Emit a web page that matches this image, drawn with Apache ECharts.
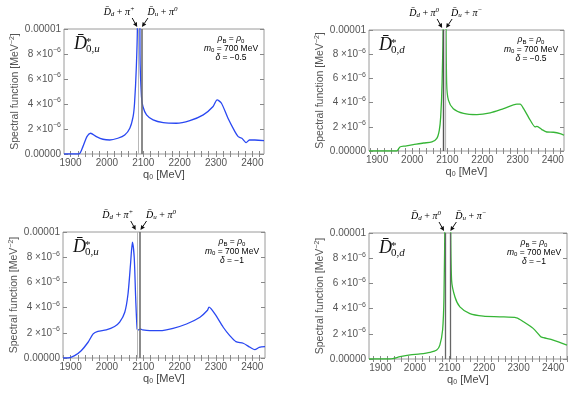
<!DOCTYPE html>
<html>
<head>
<meta charset="utf-8">
<script src="https://cdn.jsdelivr.net/npm/echarts@6/dist/echarts.min.js"></script>
<style>
  html, body { margin: 0; background: #fff; }
  #chart { width: 581px; height: 397px; }
</style>
</head>
<body>
<div id="chart"></div>
<script>
// spectral function values are in units of 1e-6 MeV^-2, q0 in MeV
// peaks that leave the frame are given a large value and clipped

// D*0,u  delta = -0.5
const qU05 = [1882, 1923, 1934, 1945, 1955, 1971, 1989, 2008, 2030, 2049, 2063, 2072, 2076, 2081, 2084, 2087, 2091, 2095, 2099, 2109, 2127, 2155, 2191, 2228, 2265, 2292, 2303, 2315, 2333, 2352, 2361, 2371, 2383, 2392, 2407, 2432];
const sU05 = [0, 0, 0.59, 1.39, 1.66, 1.39, 1.18, 1.12, 1.26, 1.52, 2.06, 2.99, 4.06, 7.0, 10.5, 40, 8.0, 4.6, 3.8, 3.13, 2.73, 2.51, 2.46, 2.67, 3.13, 3.8, 4.33, 4.06, 2.86, 1.79, 1.39, 1.26, 0.91, 1.12, 1.12, 1.07];

// D*0,d  delta = -0.5
const qD05 = [1877, 1956, 1965, 1980, 2003, 2032, 2056, 2070, 2077, 2081, 2085, 2089, 2092, 2096, 2098, 2103, 2117, 2146, 2184, 2222, 2260, 2298, 2307, 2317, 2336, 2350, 2355, 2369, 2383, 2402, 2421, 2432];
const sD05 = [0, 0, 0.33, 0.41, 0.52, 0.66, 0.75, 1.04, 1.71, 2.8, 5.6, 12, 40, 12, 5.6, 4.2, 3.5, 3.1, 3.0, 3.15, 3.5, 3.87, 3.87, 3.5, 2.54, 1.99, 2.04, 1.77, 1.57, 1.55, 1.44, 1.3];

// D*0,u  delta = -1
const qU1 = [1879, 1893, 1911, 1929, 1948, 1962, 1975, 1998, 2021, 2035, 2049, 2058, 2065, 2070, 2075, 2079, 2083, 2086, 2092, 2098, 2118, 2146, 2182, 2219, 2256, 2276, 2281, 2297, 2320, 2338, 2355, 2375, 2394, 2407, 2419, 2435];
const sU1 = [0, 0, 0.19, 0.58, 1.25, 1.91, 2.12, 2.23, 2.5, 2.84, 3.63, 5.1, 7.5, 9.2, 8.0, 4.8, 2.3, 2.23, 2.3, 2.23, 2.17, 2.17, 2.36, 2.7, 3.24, 3.77, 4.03, 3.5, 2.44, 1.78, 1.3, 1.17, 0.85, 0.66, 0.85, 0.9];

// D*0,d  delta = -1
const qD1 = [1867, 1928, 1957, 1986, 2015, 2044, 2063, 2072, 2080, 2084, 2087, 2095, 2103, 2106, 2116, 2130, 2159, 2198, 2246, 2294, 2314, 2342, 2364, 2372, 2400, 2440];
const sD1 = [0, 0, 0.18, 0.32, 0.4, 0.53, 0.71, 1.1, 2.3, 4.9, 12, 40, 12, 6.25, 4.9, 4.14, 3.6, 3.4, 3.35, 3.27, 2.96, 2.43, 1.77, 1.69, 1.5, 1.1];

// threshold lines (MeV)
const thrU05 = [2086, 2095];
const thrD05 = [2088, 2095];
const thrU1 = [2082, 2091];
const thrD1 = [2087, 2101];

const xLabels = [1900, 2000, 2100, 2200, 2300, 2400];
const yLabels = [0, 2, 4, 6, 8, 10];
const deltas = ['−0.5', '−0.5', '−1', '−1'];
const flavours = ['u', 'd', 'u', 'd'];

const BLUE = '#2a48f2';
const GREEN = '#36b536';

const panels = [
  { q: qU05, s: sU05, thr: thrU05, color: BLUE, thrStyle: [['#b8b8b8', 1], ['#6e6e6e', 1.6]], chan: [['d', '+'], ['u', '0']],
    box: { left: 64, top: 29, width: 200, height: 125, min: 1882, max: 2432 } },
  { q: qD05, s: sD05, thr: thrD05, color: GREEN, thrStyle: [['#555', 1.4], ['#b8b8b8', 1.2]], chan: [['d', '0'], ['u', '−']],
    box: { left: 369, top: 30, width: 195, height: 121, min: 1877, max: 2432 } },
  { q: qU1, s: sU1, thr: thrU1, color: BLUE, thrStyle: [['#b8b8b8', 1], ['#6e6e6e', 1.6]], chan: [['d', '+'], ['u', '0']],
    box: { left: 63, top: 232, width: 202, height: 126, min: 1879, max: 2435 } },
  { q: qD1, s: sD1, thr: thrD1, color: GREEN, thrStyle: [['#666', 1.3], ['#666', 1.3]], chan: [['d', '0'], ['u', '−']],
    box: { left: 369, top: 233, width: 198, height: 126, min: 1867, max: 2440 } },
];

const FONT = '"Liberation Sans", Arial, sans-serif';
const SERIF = '"Liberation Serif", "DejaVu Serif", serif';

const minorX = [];
for (let v = 1860; v <= 2440; v += 20) minorX.push(v);

const grid = [], xAxis = [], yAxis = [], series = [];

panels.forEach((p, i) => {
  const b = p.box;
  grid.push({ left: b.left, top: b.top, width: b.width, height: b.height, show: true, borderColor: '#9a9a9a', borderWidth: 1 });
  const ticks = minorX.filter(v => v >= b.min && v <= b.max);
  xAxis.push({
    type: 'value', gridIndex: i, min: b.min, max: b.max, position: 'bottom',
    axisLine: { show: false }, splitLine: { show: false },
    axisTick: { inside: true, length: 3, customValues: ticks, lineStyle: { color: '#888' } },
    axisLabel: { customValues: xLabels, color: '#555', fontSize: 10, fontFamily: FONT, margin: 4, formatter: v => String(v) },
    name: 'q{s|0} [MeV]', nameLocation: 'middle', nameGap: 15,
    nameTextStyle: { color: '#444', fontSize: 11, fontFamily: FONT, rich: { s: { fontSize: 7, color: '#444', padding: [5, 0, 0, 0] } } },
  });
  xAxis.push({
    type: 'value', gridIndex: i, min: b.min, max: b.max, position: 'top',
    axisLine: { show: false }, splitLine: { show: false }, axisLabel: { show: false },
    axisTick: { inside: true, length: 3, customValues: ticks, lineStyle: { color: '#888' } },
  });
  yAxis.push({
    type: 'value', gridIndex: i, min: 0, max: 10, interval: 2, position: 'left',
    axisLine: { show: false }, splitLine: { show: false },
    axisTick: { inside: true, length: 4, lineStyle: { color: '#888' } },
    axisLabel: {
      color: '#555', fontSize: 10, fontFamily: FONT, margin: 3,
      formatter: v => v === 10 ? '0.00001' : v === 0 ? '0.00000' : v + ' ×10{s|−6}',
      rich: { s: { fontSize: 7, color: '#555', padding: [0, 0, 7, 0] } },
    },
    name: 'Spectral function [MeV{s|−2}]', nameLocation: 'middle', nameGap: 41,
    nameTextStyle: { color: '#555', fontSize: 10.5, fontFamily: FONT, rich: { s: { fontSize: 7, color: '#555', padding: [0, 0, 7, 0] } } },
  });
  yAxis.push({
    type: 'value', gridIndex: i, min: 0, max: 10, interval: 2, position: 'right',
    axisLine: { show: false }, splitLine: { show: false }, axisLabel: { show: false },
    axisTick: { inside: true, length: 4, lineStyle: { color: '#888' } },
  });
  series.push({
    type: 'line', xAxisIndex: 2 * i, yAxisIndex: 2 * i, data: [], silent: true,
    markLine: {
      symbol: 'none', silent: true, animation: false, label: { show: false },
      data: p.thr.map((v, k) => ({ xAxis: v, lineStyle: { color: p.thrStyle[k][0], width: p.thrStyle[k][1], type: 'solid' } })),
    },
  });
  series.push({
    type: 'line', xAxisIndex: 2 * i, yAxisIndex: 2 * i, clip: true, animation: false,
    data: p.q.map((x, k) => [x, p.s[k]]),
    showSymbol: false, smooth: 0.25, lineStyle: { color: p.color, width: 1.3 }, z: 3,
  });
});

const chart = echarts.init(document.getElementById('chart'));
chart.setOption({ animation: false, grid, xAxis, yAxis, series });

// annotations: titles, parameter boxes, threshold arrows
const graphics = [];
const arrow = (x1, y1, x2, y2) => {
  const a = Math.atan2(y2 - y1, x2 - x1), h = 4.5, w = 2.2;
  const bx = x2 - h * Math.cos(a), by = y2 - h * Math.sin(a);
  graphics.push({ type: 'line', shape: { x1, y1, x2: bx, y2: by }, style: { stroke: '#111', lineWidth: 1 } });
  graphics.push({ type: 'polygon', shape: { points: [[x2, y2], [bx + w * Math.sin(a), by - w * Math.cos(a)], [bx - w * Math.sin(a), by + w * Math.cos(a)]] }, style: { fill: '#111' } });
};
const chanRich = {
  i: { fontFamily: SERIF, fontStyle: 'italic', fontSize: 10, color: '#222' },
  n: { fontFamily: SERIF, fontSize: 10, color: '#222' },
  sb: { fontFamily: SERIF, fontStyle: 'italic', fontSize: 7, color: '#222', padding: [4, 0, 0, 0] },
  sp: { fontFamily: SERIF, fontStyle: 'italic', fontSize: 7, color: '#222', padding: [0, 0, 6, 0] },
};
const parRich = {
  i: { fontFamily: FONT, fontStyle: 'italic', fontSize: 8.5, color: '#222' },
  n: { fontFamily: FONT, fontSize: 8.5, color: '#222' },
  sbn: { fontFamily: FONT, fontSize: 6, color: '#222', padding: [4, 0, 0, 0] },
};

panels.forEach((p, i) => {
  const b = p.box;
  const top = b.top;
  // title
  graphics.push({ type: 'text', x: b.left + 10, y: top + 24, style: { text: 'D\u0304', font: 'italic 18px ' + SERIF, fill: '#111', verticalAlign: 'bottom' } });
  graphics.push({ type: 'text', x: b.left + 22, y: top + 19, style: { text: '*', font: '11px ' + SERIF, fill: '#111', verticalAlign: 'bottom' } });
  graphics.push({ type: 'text', x: b.left + 22, y: top + 26, style: { text: '0,' + '{i|' + flavours[i] + '}', font: '11px ' + SERIF, fill: '#111', verticalAlign: 'bottom',
    rich: { i: { fontFamily: SERIF, fontStyle: 'italic', fontSize: 11, color: '#111' } } } });
  // parameters
  const cx = b.left + b.width - 33;
  const lines = [
    '{i|ρ}{sbn|B}{n| = }{i|ρ}{sbn|0}',
    '{i|m}{sbn|0}{n| = 700 MeV}',
    '{i|δ}{n| = ' + deltas[i] + '}',
  ];
  lines.forEach((t, k) => {
    graphics.push({ type: 'text', x: cx, y: top + 10 + 9.3 * k, style: { text: t, align: 'center', verticalAlign: 'middle', rich: parRich } });
  });
  // arrows to thresholds
  const px = p.thr.map(v => chart.convertToPixel({ gridIndex: i }, [v, 10])[0]);
  const yt = top - 2, yb = top - 11;
  arrow(px[0] - 6, yb, px[0] - 1, yt);
  arrow(px[1] + 6.5, yb, px[1] + 0.5, yt);
  const [cl, cr] = p.chan;
  graphics.push({ type: 'text', x: px[0] - 19, y: top - 17, style: { text: '{i|D\u0304}{sb|' + cl[0] + '}{n| + }{i|π}{sp|' + cl[1] + '}', align: 'center', verticalAlign: 'middle', rich: chanRich } });
  graphics.push({ type: 'text', x: px[1] + 21, y: top - 17, style: { text: '{i|D\u0304}{sb|' + cr[0] + '}{n| + }{i|π}{sp|' + cr[1] + '}', align: 'center', verticalAlign: 'middle', rich: chanRich } });
});

chart.setOption({ graphic: { elements: graphics } });
</script>
</body>
</html>
